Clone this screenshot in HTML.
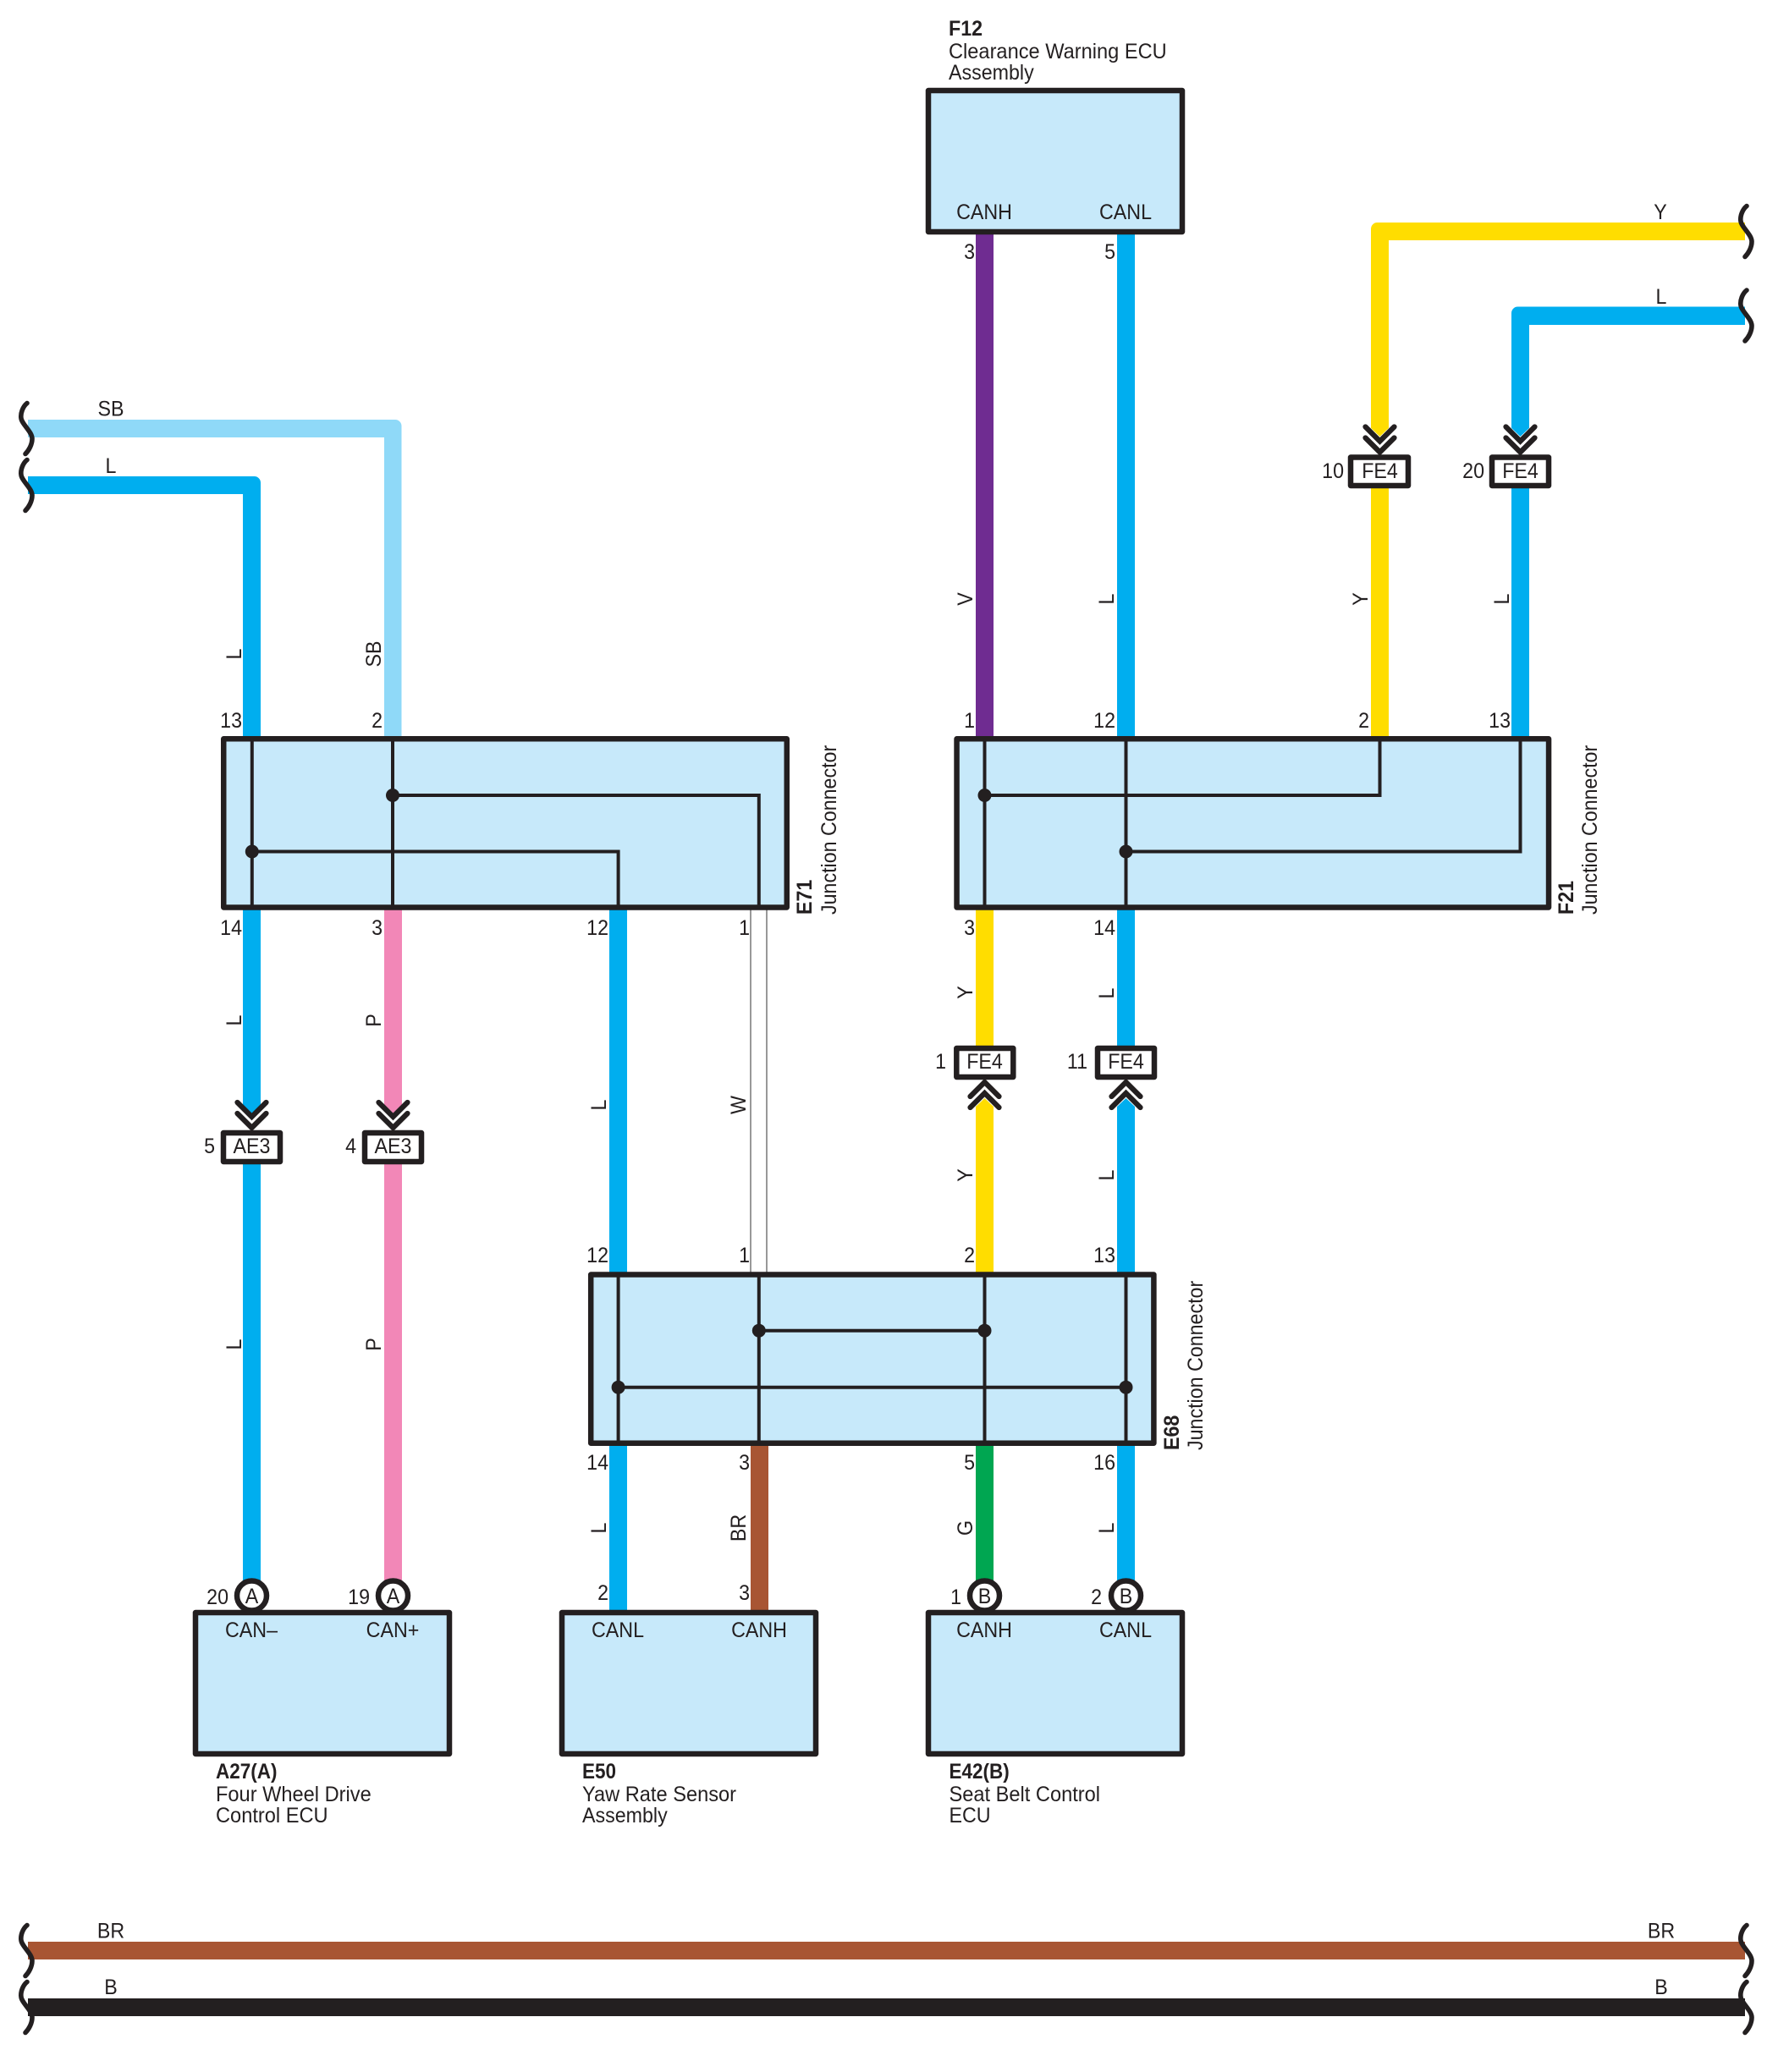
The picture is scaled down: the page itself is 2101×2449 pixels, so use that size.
<!DOCTYPE html>
<html><head><meta charset="utf-8"><style>
html,body{margin:0;padding:0;background:#fff;width:2101px;height:2449px;overflow:hidden}
svg{display:block}
text{font-family:"Liberation Sans",sans-serif;font-size:25px;fill:#231F20}
.m{text-anchor:middle}.e{text-anchor:end}.b{font-weight:bold}
.box{fill:#C7E9FA;stroke:#231F20;stroke-width:6.500;stroke-linejoin:round}
.tag{fill:#fff;stroke:#231F20;stroke-width:6.500;stroke-linejoin:round}
.ln{fill:none;stroke:#231F20;stroke-width:4}
.ch{fill:none;stroke:#231F20;stroke-width:6.200;stroke-linecap:round;stroke-linejoin:miter}
.sq{fill:none;stroke:#231F20;stroke-width:5.600;stroke-linecap:round}
</style></head><body>
<svg xmlns="http://www.w3.org/2000/svg" width="2101" height="2449" viewBox="0 0 2101 2449">
<defs>
<path id="sq" class="sq" d="M1-30C-4-26-7-18-6-12C-5-5 7 4 7 12C7 19 3 26-1 30"/>
<g id="dn"><path class="ch" d="M-17-33L0-16L17-33M-17-20L0-3L17-20"/></g>
<g id="up"><path class="ch" d="M-17 20L0 3L17 20M-17 33L0 16L17 33"/></g>
</defs>

<!-- bent wires -->
<path fill="#8FD9F8" d="M33 496H467a7.500 7.500 0 0 1 7.500 7.500V872H454V517H33z"/>
<path fill="#00AEEF" d="M33 563H300.500a7.500 7.500 0 0 1 7.500 7.500V872H287V584H33z"/>
<path fill="#FFDD00" d="M2062 263H1627.500a7.500 7.500 0 0 0-7.500 7.500V506L1630.500 516L1641 506V284H2062z"/>
<path fill="#00AEEF" d="M2062 362.500H1793.500a7.500 7.500 0 0 0-7.500 7.500V506L1796.500 516L1807 506V384H2062z"/>

<!-- straight wires -->
<rect x="1153" y="277" width="21" height="595" fill="#6F2C91"/>
<rect x="1320" y="277" width="21" height="595" fill="#00AEEF"/>
<rect x="1620" y="577" width="21" height="295" fill="#FFDD00"/>
<rect x="1786" y="577" width="21" height="295" fill="#00AEEF"/>

<path fill="#00AEEF" d="M287 1075H308V1306L297.500 1316L287 1306z"/>
<path fill="#F287B7" d="M454 1075H475V1306L464.500 1316L454 1306z"/>
<rect x="287" y="1376" width="21" height="494" fill="#00AEEF"/>
<rect x="454" y="1376" width="21" height="494" fill="#F287B7"/>
<rect x="720" y="1075" width="21" height="430" fill="#00AEEF"/>
<path d="M887 1075V1504M906 1075V1504" stroke="#555" stroke-width="1.200" fill="none"/>
<rect x="1153" y="1075" width="21" height="162" fill="#FFDD00"/>
<rect x="1320" y="1075" width="21" height="162" fill="#00AEEF"/>
<path fill="#FFDD00" d="M1153 1308L1163.500 1298L1174 1308V1505H1153z"/>
<path fill="#00AEEF" d="M1320 1308L1330.500 1298L1341 1308V1505H1320z"/>
<rect x="720" y="1706" width="21" height="198" fill="#00AEEF"/>
<rect x="887" y="1706" width="21" height="198" fill="#A85533"/>
<rect x="1153" y="1706" width="21" height="164" fill="#00A651"/>
<rect x="1320" y="1706" width="21" height="164" fill="#00AEEF"/>

<rect x="33" y="2295" width="2029" height="21" fill="#A85533"/>
<rect x="33" y="2362" width="2029" height="21" fill="#231F20"/>

<!-- squiggles -->
<use href="#sq" x="31" y="506.500"/><use href="#sq" x="31" y="573.500"/>
<use href="#sq" x="2063" y="273.500"/><use href="#sq" x="2063" y="373"/>
<use href="#sq" x="31" y="2305.500"/><use href="#sq" x="31" y="2372.500"/>
<use href="#sq" x="2063" y="2305.500"/><use href="#sq" x="2063" y="2372.500"/>

<!-- boxes -->
<rect class="box" x="1097" y="107" width="300" height="167"/>
<rect class="box" x="264.250" y="873.250" width="665.500" height="199.200"/>
<rect class="box" x="1130.550" y="873.250" width="699.500" height="199.200"/>
<rect class="box" x="698.200" y="1506.500" width="665.200" height="199.200"/>
<rect class="box" x="231" y="1906" width="300" height="167"/>
<rect class="box" x="664" y="1906" width="300" height="167"/>
<rect class="box" x="1097" y="1906" width="300" height="167"/>

<!-- E71 internals -->
<path class="ln" d="M297.800 872V1073M464 872V1073M464 940H896.800V1073M297.800 1006.500H730.600V1073"/>
<circle cx="464" cy="940" r="8" fill="#231F20"/><circle cx="297.800" cy="1006.500" r="8" fill="#231F20"/>
<!-- F21 internals -->
<path class="ln" d="M1163.500 872V1073M1330.500 872V1073M1630.500 872V940H1163.500M1796.500 872V1006.500H1330.500"/>
<circle cx="1163.500" cy="940" r="8" fill="#231F20"/><circle cx="1330.500" cy="1006.500" r="8" fill="#231F20"/>
<!-- E68 internals -->
<path class="ln" d="M730.600 1505V1707M896.800 1505V1707M1163.500 1505V1707M1330.500 1505V1707M896.800 1572.700H1163.500M730.600 1639.700H1330.500"/>
<circle cx="896.800" cy="1572.700" r="8" fill="#231F20"/><circle cx="1163.500" cy="1572.700" r="8" fill="#231F20"/>
<circle cx="730.600" cy="1639.700" r="8" fill="#231F20"/><circle cx="1330.500" cy="1639.700" r="8" fill="#231F20"/>

<!-- tag connectors -->
<rect class="tag" x="264" y="1339" width="67" height="34"/>
<rect class="tag" x="431" y="1339" width="67" height="34"/>
<rect class="tag" x="1596" y="540.500" width="68" height="33.500"/>
<rect class="tag" x="1763" y="540.500" width="67" height="33.500"/>
<rect class="tag" x="1130.300" y="1239" width="67" height="34"/>
<rect class="tag" x="1297" y="1239" width="67" height="34"/>
<use href="#dn" x="297.500" y="1336"/><use href="#dn" x="464.500" y="1336"/>
<use href="#dn" x="1630.500" y="537.500"/><use href="#dn" x="1796.500" y="537.500"/>
<use href="#up" x="1163.500" y="1276"/><use href="#up" x="1330.500" y="1276"/>

<!-- circles -->
<circle cx="297.500" cy="1886" r="17.500" fill="#fff" stroke="#231F20" stroke-width="6.500"/>
<circle cx="464.500" cy="1886" r="17.500" fill="#fff" stroke="#231F20" stroke-width="6.500"/>
<circle cx="1163.500" cy="1886" r="17.500" fill="#fff" stroke="#231F20" stroke-width="6.500"/>
<circle cx="1330.500" cy="1886" r="17.500" fill="#fff" stroke="#231F20" stroke-width="6.500"/>

<!-- horizontal labels -->
<g>
<text class="b" transform="translate(1121,42) scale(.93,1)">F12</text>
<text transform="translate(1121,69) scale(.945,1)">Clearance Warning ECU</text>
<text transform="translate(1121,94) scale(.93,1)">Assembly</text>
<text class="m" transform="translate(1163,259) scale(.93,1)">CANH</text>
<text class="m" transform="translate(1330,259) scale(.93,1)">CANL</text>
<text class="e" transform="translate(1152,306) scale(.93,1)">3</text>
<text class="e" transform="translate(1318,306) scale(.93,1)">5</text>
<text class="m" transform="translate(1962,259) scale(.93,1)">Y</text>
<text class="m" transform="translate(1963,359) scale(.93,1)">L</text>
<text class="e" transform="translate(1588,565) scale(.93,1)">10</text>
<text class="e" transform="translate(1754,565) scale(.93,1)">20</text>
<text class="m" transform="translate(1630.500,565) scale(.93,1)">FE4</text>
<text class="m" transform="translate(1796.500,565) scale(.93,1)">FE4</text>
<text class="m" transform="translate(131,491.500) scale(.93,1)">SB</text>
<text class="m" transform="translate(131,559) scale(.93,1)">L</text>

<text class="e" transform="translate(286,860) scale(.93,1)">13</text>
<text class="e" transform="translate(452,860) scale(.93,1)">2</text>
<text class="e" transform="translate(1152,860) scale(.93,1)">1</text>
<text class="e" transform="translate(1318,860) scale(.93,1)">12</text>
<text class="e" transform="translate(1618,860) scale(.93,1)">2</text>
<text class="e" transform="translate(1785,860) scale(.93,1)">13</text>

<text class="e" transform="translate(286,1105) scale(.93,1)">14</text>
<text class="e" transform="translate(452,1105) scale(.93,1)">3</text>
<text class="e" transform="translate(719,1105) scale(.93,1)">12</text>
<text class="e" transform="translate(886,1105) scale(.93,1)">1</text>
<text class="e" transform="translate(1152,1105) scale(.93,1)">3</text>
<text class="e" transform="translate(1318,1105) scale(.93,1)">14</text>

<text class="e" transform="translate(1118,1263) scale(.93,1)">1</text>
<text class="e" transform="translate(1285,1263) scale(.93,1)">11</text>
<text class="m" transform="translate(1163.500,1263) scale(.93,1)">FE4</text>
<text class="m" transform="translate(1330.500,1263) scale(.93,1)">FE4</text>

<text class="e" transform="translate(254,1363) scale(.93,1)">5</text>
<text class="e" transform="translate(421,1363) scale(.93,1)">4</text>
<text class="m" transform="translate(297.500,1363) scale(.93,1)">AE3</text>
<text class="m" transform="translate(464.500,1363) scale(.93,1)">AE3</text>

<text class="e" transform="translate(719,1492) scale(.93,1)">12</text>
<text class="e" transform="translate(886,1492) scale(.93,1)">1</text>
<text class="e" transform="translate(1152,1492) scale(.93,1)">2</text>
<text class="e" transform="translate(1318,1492) scale(.93,1)">13</text>

<text class="e" transform="translate(719,1737) scale(.93,1)">14</text>
<text class="e" transform="translate(886,1737) scale(.93,1)">3</text>
<text class="e" transform="translate(1152,1737) scale(.93,1)">5</text>
<text class="e" transform="translate(1318,1737) scale(.93,1)">16</text>

<text class="e" transform="translate(270,1896) scale(.93,1)">20</text>
<text class="e" transform="translate(437,1896) scale(.93,1)">19</text>
<text class="e" transform="translate(719,1891) scale(.93,1)">2</text>
<text class="e" transform="translate(886,1891) scale(.93,1)">3</text>
<text class="e" transform="translate(1136,1896) scale(.93,1)">1</text>
<text class="e" transform="translate(1302,1896) scale(.93,1)">2</text>
<text class="m" transform="translate(297.500,1895) scale(.93,1)">A</text>
<text class="m" transform="translate(464.500,1895) scale(.93,1)">A</text>
<text class="m" transform="translate(1163.500,1895) scale(.93,1)">B</text>
<text class="m" transform="translate(1330.500,1895) scale(.93,1)">B</text>

<text class="m" transform="translate(297,1935) scale(.93,1)">CAN–</text>
<text class="m" transform="translate(464,1935) scale(.93,1)">CAN+</text>
<text class="m" transform="translate(730,1935) scale(.93,1)">CANL</text>
<text class="m" transform="translate(897,1935) scale(.93,1)">CANH</text>
<text class="m" transform="translate(1163,1935) scale(.93,1)">CANH</text>
<text class="m" transform="translate(1330,1935) scale(.93,1)">CANL</text>

<text class="b" transform="translate(255,2102) scale(.9,1)">A27(A)</text>
<text transform="translate(255,2129) scale(.945,1)">Four Wheel Drive</text>
<text transform="translate(255,2154) scale(.945,1)">Control ECU</text>
<text class="b" transform="translate(688,2102) scale(.9,1)">E50</text>
<text transform="translate(688,2129) scale(.945,1)">Yaw Rate Sensor</text>
<text transform="translate(688,2154) scale(.93,1)">Assembly</text>
<text class="b" transform="translate(1121.500,2102) scale(.9,1)">E42(B)</text>
<text transform="translate(1121.500,2129) scale(.945,1)">Seat Belt Control</text>
<text transform="translate(1121.500,2154) scale(.93,1)">ECU</text>

<text class="m" transform="translate(131,2290.500) scale(.93,1)">BR</text>
<text class="m" transform="translate(131,2357) scale(.93,1)">B</text>
<text class="m" transform="translate(1963,2290.500) scale(.93,1)">BR</text>
<text class="m" transform="translate(1963,2357) scale(.93,1)">B</text>
</g>

<!-- rotated labels -->
<g>
<text class="m" transform="translate(285,773) rotate(-90) scale(.93,1)">L</text>
<text class="m" transform="translate(450,773) rotate(-90) scale(.93,1)">SB</text>
<text class="m" transform="translate(1149,708) rotate(-90) scale(.93,1)">V</text>
<text class="m" transform="translate(1316,708) rotate(-90) scale(.93,1)">L</text>
<text class="m" transform="translate(1616,708) rotate(-90) scale(.93,1)">Y</text>
<text class="m" transform="translate(1783,708) rotate(-90) scale(.93,1)">L</text>
<text class="m" transform="translate(285,1206) rotate(-90) scale(.93,1)">L</text>
<text class="m" transform="translate(450,1206) rotate(-90) scale(.93,1)">P</text>
<text class="m" transform="translate(1149,1173) rotate(-90) scale(.93,1)">Y</text>
<text class="m" transform="translate(1316,1174) rotate(-90) scale(.93,1)">L</text>
<text class="m" transform="translate(716,1306) rotate(-90) scale(.93,1)">L</text>
<text class="m" transform="translate(881,1306) rotate(-90) scale(.93,1)">W</text>
<text class="m" transform="translate(1149,1389) rotate(-90) scale(.93,1)">Y</text>
<text class="m" transform="translate(1316,1389) rotate(-90) scale(.93,1)">L</text>
<text class="m" transform="translate(285,1589) rotate(-90) scale(.93,1)">L</text>
<text class="m" transform="translate(450,1589) rotate(-90) scale(.93,1)">P</text>
<text class="m" transform="translate(716,1806) rotate(-90) scale(.93,1)">L</text>
<text class="m" transform="translate(881,1806) rotate(-90) scale(.93,1)">BR</text>
<text class="m" transform="translate(1149,1806) rotate(-90) scale(.93,1)">G</text>
<text class="m" transform="translate(1316,1806) rotate(-90) scale(.93,1)">L</text>

<text class="b" transform="translate(959,1081) rotate(-90) scale(.93,1)">E71</text>
<text transform="translate(988,1081) rotate(-90) scale(.93,1)">Junction Connector</text>
<text class="b" transform="translate(1859,1081) rotate(-90) scale(.93,1)">F21</text>
<text transform="translate(1887,1081) rotate(-90) scale(.93,1)">Junction Connector</text>
<text class="b" transform="translate(1393,1714) rotate(-90) scale(.93,1)">E68</text>
<text transform="translate(1421,1714) rotate(-90) scale(.93,1)">Junction Connector</text>
</g>
</svg>
</body></html>
